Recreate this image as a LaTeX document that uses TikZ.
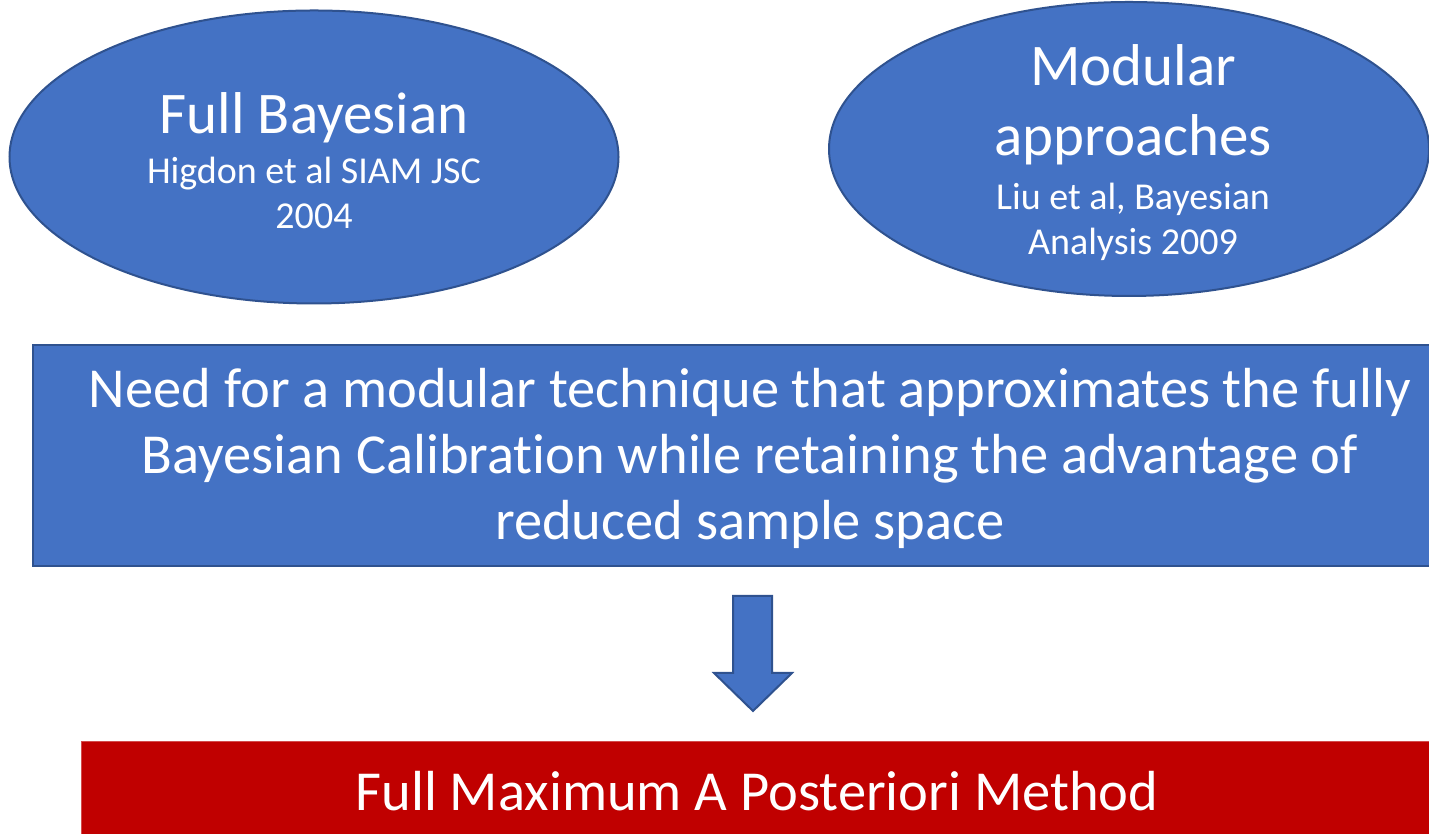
\documentclass[tikz,border=0pt]{standalone}
\usepackage{fontspec}
\setmainfont{Carlito}[Ligatures=NoCommon]
\usetikzlibrary{shapes.geometric}
\definecolor{fillblue}{HTML}{4472C4}
\definecolor{edgeblue}{HTML}{2F528F}
\definecolor{fillred}{HTML}{C00000}
\tikzset{
  ell/.style={ellipse, draw=edgeblue, line width=2pt, fill=fillblue, inner sep=0pt},
  blubox/.style={rectangle, draw=edgeblue, line width=2pt, fill=fillblue, inner sep=0pt},
  redbox/.style={rectangle, draw=fillred!70!white, line width=1pt, fill=fillred, inner sep=0pt},
  big/.style={text=white, align=center, font=\fontsize{59}{70}\selectfont},
  mid/.style={text=white, align=center, font=\fontsize{56.5}{66}\selectfont},
  small/.style={text=white, align=center, font=\fontsize{38}{45}\selectfont},
}
\begin{document}
\begin{tikzpicture}[x=1pt,y=1pt]
\useasboundingbox (0,0) rectangle (1429,834);
\clip (0,0) rectangle (1429,834);
% ellipses
\node[ell, minimum width=609pt, minimum height=293pt] (fb) at (314,677) {};
\node[ell, minimum width=600pt, minimum height=294pt] (ma) at (1129,685) {};
\node[big] (fbt) at (314,716) {Full Bayesian};
\node[small] (fbs) at (314,641) {Higdon et al SIAM JSC\\2004};
\node[big] (mat) at (1133,729) {Modular\\approaches};
\node[small] (mas) at (1133,612) {Liu et al, Bayesian\\Analysis 2009};
% middle box
\node[blubox, minimum width=1436pt, minimum height=221pt, anchor=north west] (need) at (32,490) {};
\node[mid] (needt) at (750,376) {Need for a modular technique that approximates the fully\\Bayesian Calibration while retaining the advantage of\\reduced sample space};
% bottom box
\node[redbox, minimum width=1400pt, minimum height=120pt, anchor=north west] (map) at (81,93) {};
\node[mid] (mapt) at (757,43) {Full Maximum A Posteriori Method};
% arrow
\draw[edgeblue, line width=2pt, fill=fillblue, line join=miter]
  (733,238) -- (772,238) -- (772,161) -- (792,161) -- (753,123) -- (714,161) -- (733,161) -- cycle;
\end{tikzpicture}
\end{document}
